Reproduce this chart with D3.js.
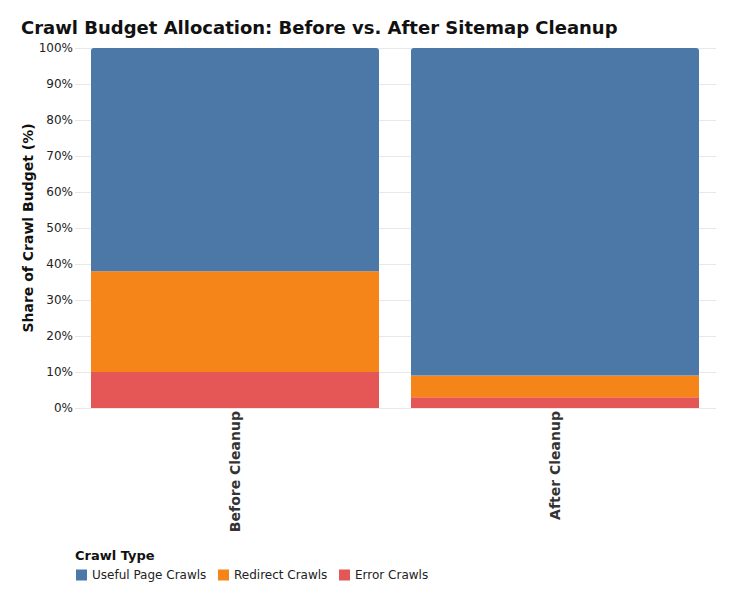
<!DOCTYPE html>
<html lang="en">
<head>
<meta charset="UTF-8">
<script src="https://d3js.org/d3.v7.min.js"></script>
<title>crawl budget</title>
<style>
  body { margin: 0; background: #fff; }
  text { font-family: "DejaVu Sans", sans-serif; }
</style>
</head>
<body>
<script>
var width = 735, height = 601;

// data
var phases = ["Before Cleanup", "After Cleanup"];
var crawlTypes = ["Useful Page Crawls", "Redirect Crawls", "Error Crawls"];
var usefulShare = [62, 91];
var redirectShare = [28, 6];
var errorShare = [10, 3];
var yTicks = [0, 10, 20, 30, 40, 50, 60, 70, 80, 90, 100];

var colors = ["#4c78a8", "#f58518", "#e45756"];

var margin = {top: 48, left: 75, right: 20, bottom: 193};
var plotW = 640, plotH = 360;

var svg = d3.select("body").append("svg")
  .attr("width", width).attr("height", height);

svg.append("text")
  .attr("x", 21).attr("y", 34)
  .style("font-size", "18px").style("font-weight", "bold")
  .attr("fill", "#111")
  .text("Crawl Budget Allocation: Before vs. After Sitemap Cleanup");

var g = svg.append("g").attr("transform", "translate(" + margin.left + "," + margin.top + ")");

var x = d3.scaleBand().domain(phases).range([0, plotW]).paddingInner(0.1).paddingOuter(0.05);
var y = d3.scaleLinear().domain([0, 100]).range([plotH, 0]);

// grid
g.append("g").selectAll("line").data(yTicks).enter().append("line")
  .attr("x1", 0).attr("x2", plotW + 1)
  .attr("y1", function(d) { return y(d) + 0.5; })
  .attr("y2", function(d) { return y(d) + 0.5; })
  .attr("stroke", "#e8e8e8").attr("stroke-width", 1);

// y axis
var yAxis = g.append("g")
  .call(d3.axisLeft(y).tickValues(yTicks).tickSize(0).tickPadding(2)
    .tickFormat(function(d) { return d + "%"; }));
yAxis.select(".domain").remove();
yAxis.selectAll("text").style("font-size", "12px").attr("fill", "#222")
  .style("font-family", "'DejaVu Sans', sans-serif");

// x axis
var xAxis = g.append("g").attr("transform", "translate(0," + plotH + ")")
  .call(d3.axisBottom(x).tickSize(0).tickPadding(0));
xAxis.select(".domain").remove();
xAxis.selectAll("text")
  .attr("transform", "rotate(-90)")
  .attr("text-anchor", "end")
  .attr("x", -3).attr("y", 0).attr("dy", "0.35em")
  .style("font-size", "14px").style("font-weight", "bold")
  .attr("fill", "#333")
  .style("font-family", "'DejaVu Sans', sans-serif");

// y title
svg.append("text")
  .attr("transform", "translate(33," + (margin.top + plotH / 2) + ") rotate(-90)")
  .attr("text-anchor", "middle")
  .style("font-size", "14px").style("font-weight", "bold")
  .attr("fill", "#111")
  .text("Share of Crawl Budget (%)");

// stacked bars
var rows = phases.map(function(p, i) {
  return {phase: p, "Error Crawls": errorShare[i], "Redirect Crawls": redirectShare[i], "Useful Page Crawls": usefulShare[i]};
});
var stackOrder = ["Error Crawls", "Redirect Crawls", "Useful Page Crawls"];
var series = d3.stack().keys(stackOrder)(rows);

function topRounded(x0, y0, w, h, r) {
  return "M" + x0 + "," + (y0 + h) +
    "V" + (y0 + r) + "Q" + x0 + "," + y0 + " " + (x0 + r) + "," + y0 +
    "H" + (x0 + w - r) + "Q" + (x0 + w) + "," + y0 + " " + (x0 + w) + "," + (y0 + r) +
    "V" + (y0 + h) + "Z";
}

series.forEach(function(s) {
  var c = colors[crawlTypes.indexOf(s.key)];
  var isTop = s.key === "Useful Page Crawls";
  g.append("g").selectAll("path").data(s).enter().append("path")
    .attr("fill", c)
    .attr("d", function(d) {
      var x0 = x(d.data.phase), w = x.bandwidth();
      var y0 = y(d[1]), h = y(d[0]) - y(d[1]);
      return topRounded(x0, y0, w, h, isTop ? 3 : 0);
    });
});

// legend
var lg = svg.append("g").attr("transform", "translate(75,560)");
lg.append("text").attr("x", 0).attr("y", 0)
  .style("font-size", "13px").style("font-weight", "bold").attr("fill", "#111")
  .text("Crawl Type");
var offsets = [0, 142, 263];
var item = lg.selectAll(".item").data(crawlTypes).enter().append("g")
  .attr("transform", function(d, i) { return "translate(" + offsets[i] + ",9)"; });
item.append("rect").attr("x", 1).attr("y", 0.5).attr("width", 11).attr("height", 11)
  .attr("fill", function(d, i) { return colors[i]; });
item.append("text").attr("x", 17).attr("y", 10)
  .style("font-size", "12px").attr("fill", "#222")
  .text(function(d) { return d; });
</script>
</body>
</html>
